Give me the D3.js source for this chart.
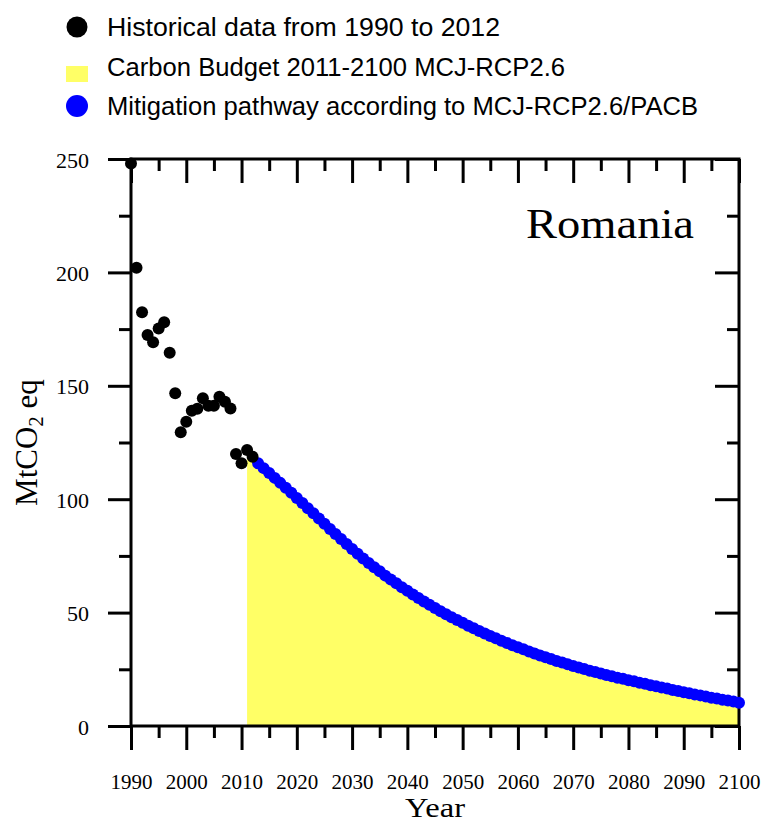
<!DOCTYPE html>
<html>
<head>
<meta charset="utf-8">
<script src="https://cdn.jsdelivr.net/npm/d3@7"></script>
<style>
  html, body { margin: 0; padding: 0; background: #fff; }
  svg { display: block; }
</style>
</head>
<body>
<svg id="chart" width="761" height="823"></svg>
<script>
// ---------- data ----------
const histYears = [1990,1991,1992,1993,1994,1995,1996,1997,1998,1999,2000,2001,2002,2003,2004,2005,2006,2007,2008,2009,2010,2011,2012];
const histValues = [248,202,182.4,172.4,169.2,175.3,178,164.6,146.7,129.5,134.2,139,139.9,144.5,141.2,141.2,145.2,143,140,119.9,115.8,121.7,118.7];

const pathYears = d3.range(2013, 2101);
const pathValues = [115.8,113.7,111.6,109.4,107.2,105.0,102.8,100.5,98.3,96.0,
  93.8,91.5,89.2,86.9,84.7,82.4,80.2,78.0,75.9,73.9,
  71.9,70.0,68.2,66.3,64.6,62.9,61.2,59.6,58.0,56.4,
  54.9,53.5,52.0,50.6,49.3,48.0,46.7,45.5,44.2,43.1,
  41.9,40.8,39.7,38.7,37.6,36.6,35.6,34.7,33.8,32.9,
  32.0,31.1,30.3,29.5,28.7,28.0,27.2,26.5,25.8,25.1,
  24.4,23.8,23.1,22.5,21.9,21.3,20.8,20.2,19.7,19.1,
  18.6,18.0,17.5,17.0,16.5,15.9,15.4,14.9,14.4,13.9,
  13.5,13.0,12.5,12.1,11.6,11.2,10.8,10.3];

const budgetYears = [2011, 2012].concat(pathYears);
const budgetValues = [118, 117].concat(pathValues);

const xMajorTicks = [1990,2000,2010,2020,2030,2040,2050,2060,2070,2080,2090,2100];
const xMinorTicks = [1995,2005,2015,2025,2035,2045,2055,2065,2075,2085,2095];
const yMajorTicks = [0,50,100,150,200,250];
const yMinorTicks = [25,75,125,175,225];

const legendLabels = ["Historical data from 1990 to 2012",
                      "Carbon Budget 2011-2100 MCJ-RCP2.6",
                      "Mitigation pathway according to MCJ-RCP2.6/PACB"];
const countryName = "Romania";

// ---------- chart ----------
const svg = d3.select("#chart");
const x = d3.scaleLinear().domain([1990, 2100]).range([131, 739]);
const y = d3.scaleLinear().domain([0, 250]).range([726, 159]);

const serif = "'Liberation Serif', 'Times New Roman', serif";
const sans = "'Liberation Sans', Arial, sans-serif";

// carbon budget area
const area = d3.area()
  .x((d, i) => x(budgetYears[i]))
  .y0(y(0))
  .y1(d => y(d));
svg.append("path")
  .datum(budgetValues)
  .attr("d", area)
  .attr("fill", "#ffff66");

// axes
function styleAxis(g) {
  g.select(".domain").remove();
  g.selectAll(".tick line").attr("stroke", "#000").attr("stroke-width", 3);
}
const [x0, x1] = x.range();
const [yb, yt] = y.range();

// bottom
svg.append("g").attr("transform", `translate(0,${yb})`)
  .call(d3.axisBottom(x).tickValues(xMajorTicks).tickSize(24).tickFormat(d3.format("d")))
  .call(styleAxis)
  .call(g => g.selectAll(".tick text")
    .attr("y", 63).attr("dy", 0)
    .attr("font-family", serif).attr("font-size", 21).attr("fill", "#000"));
svg.append("g").attr("transform", `translate(0,${yb})`)
  .call(d3.axisBottom(x).tickValues(xMinorTicks).tickSize(12).tickFormat(""))
  .call(styleAxis);
// top (inward)
svg.append("g").attr("transform", `translate(0,${yt})`)
  .call(d3.axisTop(x).tickValues(xMajorTicks).tickSize(-24).tickFormat(""))
  .call(styleAxis);
svg.append("g").attr("transform", `translate(0,${yt})`)
  .call(d3.axisTop(x).tickValues(xMinorTicks).tickSize(-12).tickFormat(""))
  .call(styleAxis);
// left
svg.append("g").attr("transform", `translate(${x0},0)`)
  .call(d3.axisLeft(y).tickValues(yMajorTicks).tickSize(23).tickFormat(d3.format("d")))
  .call(styleAxis)
  .call(g => g.selectAll(".tick text")
    .attr("x", -42).attr("dy", 8)
    .attr("font-family", serif).attr("font-size", 22).attr("fill", "#000"));
svg.append("g").attr("transform", `translate(${x0},0)`)
  .call(d3.axisLeft(y).tickValues(yMinorTicks).tickSize(12).tickFormat(""))
  .call(styleAxis);
// right (inward)
svg.append("g").attr("transform", `translate(${x1},0)`)
  .call(d3.axisRight(y).tickValues(yMajorTicks).tickSize(-24).tickFormat(""))
  .call(styleAxis);
svg.append("g").attr("transform", `translate(${x1},0)`)
  .call(d3.axisRight(y).tickValues(yMinorTicks).tickSize(-12).tickFormat(""))
  .call(styleAxis);

// frame
svg.append("rect")
  .attr("x", x0).attr("y", yt)
  .attr("width", x1 - x0).attr("height", yb - yt)
  .attr("fill", "none").attr("stroke", "#000").attr("stroke-width", 3);

// mitigation pathway dots
svg.append("g").selectAll("circle")
  .data(pathValues).join("circle")
  .attr("cx", (d, i) => x(pathYears[i]))
  .attr("cy", d => y(d))
  .attr("r", 6)
  .attr("fill", "#0000ff");

// historical dots
svg.append("g").selectAll("circle")
  .data(histValues).join("circle")
  .attr("cx", (d, i) => x(histYears[i]))
  .attr("cy", d => y(d))
  .attr("r", 6)
  .attr("fill", "#000");

// country label
svg.append("text")
  .attr("x", 694).attr("y", 238)
  .attr("text-anchor", "end")
  .attr("font-family", serif).attr("font-size", 43)
  .attr("textLength", 168).attr("lengthAdjust", "spacingAndGlyphs")
  .text(countryName);

// axis titles
svg.append("text")
  .attr("x", (x0 + x1) / 2).attr("y", 817)
  .attr("text-anchor", "middle")
  .attr("font-family", serif).attr("font-size", 27)
  .attr("textLength", 60).attr("lengthAdjust", "spacingAndGlyphs")
  .text("Year");

const yTitle = svg.append("text")
  .attr("transform", `translate(37,${(yt + yb) / 2}) rotate(-90)`)
  .attr("text-anchor", "middle")
  .attr("font-family", serif).attr("font-size", 31);
yTitle.append("tspan").text("MtCO");
yTitle.append("tspan").attr("font-size", 21).attr("dy", 6).text("2");
yTitle.append("tspan").attr("dy", -6).text(" eq");

// legend
const legendBase = [36, 76, 115];
const legendLen = [393, 458, 591];
const lg = svg.append("g");
lg.append("circle").attr("cx", 77).attr("cy", 27).attr("r", 10.5).attr("fill", "#000");
lg.append("rect").attr("x", 66).attr("y", 66).attr("width", 22).attr("height", 16).attr("fill", "#ffff66");
lg.append("circle").attr("cx", 77).attr("cy", 106).attr("r", 11).attr("fill", "#0000ff");
lg.selectAll("text").data(legendLabels).join("text")
  .attr("x", 107)
  .attr("y", (d, i) => legendBase[i])
  .attr("font-family", sans).attr("font-size", 25)
  .attr("textLength", (d, i) => legendLen[i]).attr("lengthAdjust", "spacingAndGlyphs")
  .text(d => d);
</script>
</body>
</html>
